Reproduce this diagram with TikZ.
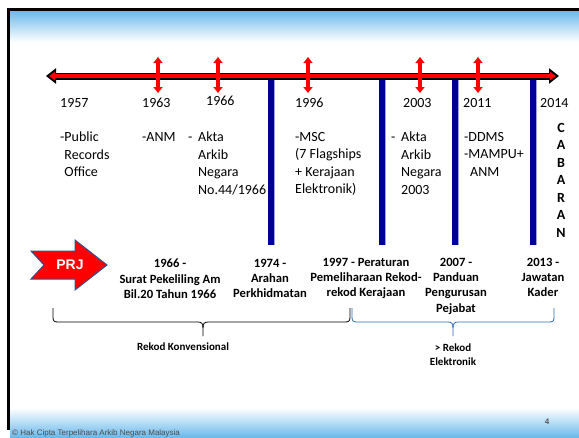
\documentclass[tikz,border=0pt]{standalone}
\usepackage{fontspec}
\setmainfont{Carlito}
\newfontfamily\arialfont{Liberation Sans}
\usetikzlibrary{arrows.meta}
\definecolor{tlred}{HTML}{FF0000}
\definecolor{barblue}{HTML}{000099}
\definecolor{barshade}{HTML}{A0A0DC}
\definecolor{braceblue}{HTML}{2E6BB0}
\definecolor{prjblue}{HTML}{2F528F}
\definecolor{skyblue}{HTML}{6BBAEC}
\tikzstyle{year} = [anchor=north west, inner sep=0pt, font=\fontsize{14}{17.5}\selectfont]
\tikzstyle{event} = [anchor=north west, inner sep=0pt, align=left, font=\fontsize{14}{17.5}\selectfont]
\tikzstyle{milestone} = [anchor=north, inner sep=0pt, align=center, font=\fontsize{12.6}{15.2}\selectfont\bfseries]
\tikzstyle{bracelabel} = [anchor=north, inner sep=0pt, align=center, font=\fontsize{11}{14}\selectfont\bfseries]
\tikzstyle{redarrow} = [tlred, line width=3.5pt, {Triangle[width=9pt,length=6pt]}-{Triangle[width=9pt,length=6pt]}]
\tikzstyle{bar} = [barblue, line width=5.5pt]
\tikzstyle{barglow} = [barshade, line width=1.5pt]
\tikzstyle{konvbrace} = [black, line width=0.8pt]
\tikzstyle{elekbrace} = [braceblue, line width=0.8pt]

\begin{document}
\begin{tikzpicture}[x=1pt, y={(0pt,-1pt)}]
    \useasboundingbox (0,0) rectangle (579,437);
    \fill[white] (0,0) rectangle (579,437);
    \shade[top color=skyblue, bottom color=white] (10,11) rectangle (579,42);
    \shade[top color=white, bottom color=skyblue] (10,408) rectangle (579,437);
    \draw[line width=3pt] (8.5,430) -- (8.5,9.5) -- (579,9.5);

    \foreach \x [count=\i] in {271,382,455,533} {
        \coordinate (bartop\i) at (\x,76);
        \coordinate (barbot\i) at (\x,245);
        \draw[barglow] ([xshift=3pt]bartop\i) -- ([xshift=3pt]barbot\i);
        \draw[bar] (bartop\i) -- (barbot\i);
    }

    \coordinate (tlstart) at (46,76);
    \coordinate (tlend) at (559,76);
    \draw[black, line width=7pt, {Triangle[width=15pt,length=10pt]}-{Triangle[width=15pt,length=10pt]}] (tlstart) -- (tlend);
    \draw[tlred, line width=4pt, {Triangle[width=8pt,length=6pt]}-{Triangle[width=8pt,length=6pt]}] ([xshift=3pt]tlstart) -- ([xshift=-3pt]tlend);

    \foreach \x [count=\i] in {158,218,308,420,478} {
        \coordinate (up\i) at (\x,57);
        \coordinate (dn\i) at (\x,93);
        \draw[redarrow] (up\i) -- (dn\i);
    }

    \node (y1957) [year] at (60,98) {1957};
    \node (y1963) [year] at (142,98) {1963};
    \node (y1966) [year] at (206,96) {1966};
    \node (y1996) [year] at (295,98) {1996};
    \node (y2003) [year] at (403,98) {2003};
    \node (y2011) [year] at (463,98) {2011};
    \node (y2014) [year] at (540,98) {2014};

    \node (pro) [event] at (60,132) {-Public\\\hphantom{-}Records\\\hphantom{-}Office};
    \node (anm) [event] at (142,132) {-ANM};
    \node (akta66) [event] at (188,132) {\makebox[10pt][l]{-}Akta\\\hspace*{10pt}Arkib\\\hspace*{10pt}Negara\\\hspace*{10pt}No.44/1966};
    \node (msc) [event] at (295,132) {-MSC\\(7 Flagships\\+ Kerajaan\\Elektronik)};
    \node (akta03) [event] at (391,132) {\makebox[10pt][l]{-}Akta\\\hspace*{10pt}Arkib\\\hspace*{10pt}Negara\\\hspace*{10pt}2003};
    \node (ddms) [event] at (464,132) {-DDMS\\-MAMPU+\\\hspace*{6pt}ANM};
    \node (cabaran) [anchor=north, inner sep=0pt, align=center, font=\fontsize{14}{17.5}\selectfont\bfseries] at (561,123) {C\\A\\B\\A\\R\\A\\N};

    \filldraw[fill=red, draw=prjblue, line width=1pt] (31,251) -- (75,251) -- (75,240) -- (107,265) -- (75,290) -- (75,279) -- (31,279) -- (44,265) -- cycle;
    \node (prj) [white, font=\arialfont\fontsize{14}{14}\selectfont\bfseries] at (70,265) {PRJ};

    \node (m1966) [milestone] at (170,259) {1966 -\\Surat Pekeliling Am\\Bil.20 Tahun 1966};
    \node (m1974) [milestone] at (270,259) {1974 -\\Arahan\\Perkhidmatan};
    \node (m1997) [milestone] at (366,258) {1997 - Peraturan\\Pemeliharaan Rekod-\\rekod Kerajaan};
    \node (m2007) [milestone] at (456,258) {2007 -\\Panduan\\Pengurusan\\Pejabat};
    \node (m2013) [milestone] at (543,258) {2013 -\\Jawatan\\Kader};

    \draw[konvbrace] (53,308) -- (53,317) .. controls (53,321) and (54,322) .. (58,322) -- (198,322) .. controls (202,322) and (203,324) .. (203,328) -- (203,336);
    \draw[konvbrace] (203,328) .. controls (203,324) and (204,322) .. (208,322) -- (345,322) .. controls (349,322) and (350,321) .. (350,317) -- (350,308);
    \draw[elekbrace] (352,308) -- (352,317) .. controls (352,321) and (353,322) .. (357,322) -- (448,322) .. controls (452,322) and (453,324) .. (453,328) -- (453,336);
    \draw[elekbrace] (453,328) .. controls (453,324) and (454,322) .. (458,322) -- (549,322) .. controls (553,322) and (554,321) .. (554,317) -- (554,308);

    \node (konv) [bracelabel] at (183,343) {Rekod Konvensional};
    \node (elek) [bracelabel] at (453,344) {> Rekod\\Elektronik};

    \node (pagenum) [gray!70!black, font=\arialfont\fontsize{8}{8}\selectfont\bfseries] at (547,422) {4};
    \node (copyright) [anchor=west, inner sep=0pt, gray!60!black, font=\arialfont\fontsize{8}{8}\selectfont] at (12,433) {© Hak Cipta Terpelihara Arkib Negara Malaysia};
\end{tikzpicture}
\end{document}
